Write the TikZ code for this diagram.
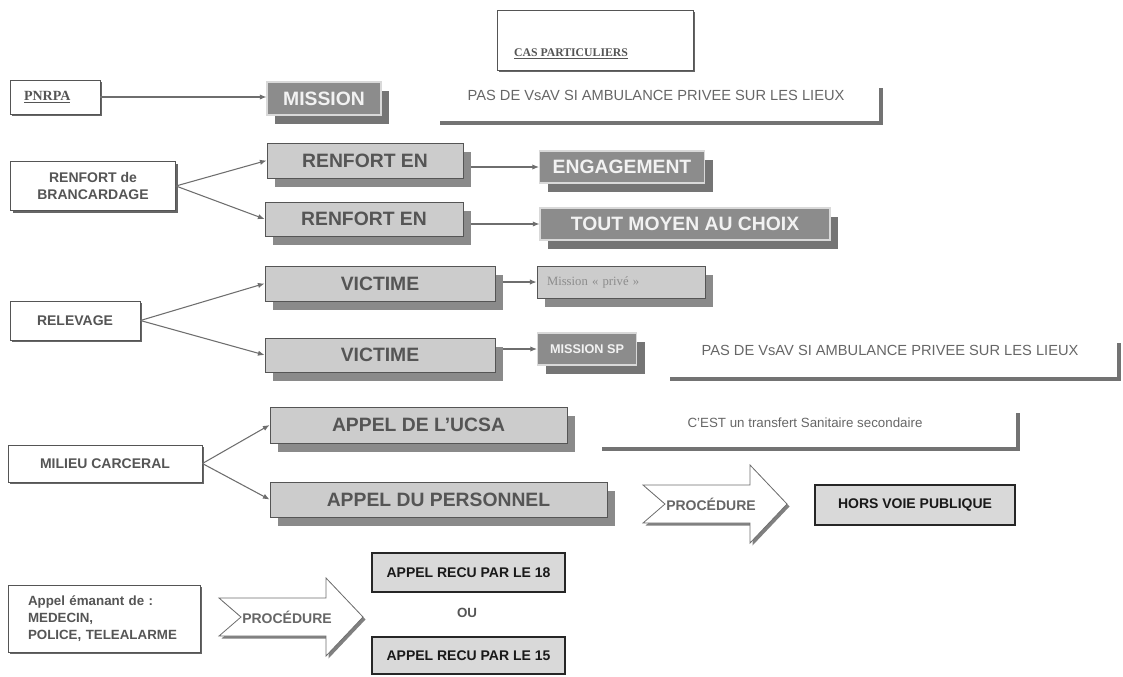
\documentclass[tikz,border=0pt]{standalone}
\usepackage{fontspec}
\setmainfont{Liberation Sans}
\newfontfamily\serifcas{Liberation Serif}
\usetikzlibrary{shadows,arrows.meta}

\definecolor{boxgray}{HTML}{CCCCCC}
\definecolor{darkfill}{HTML}{8C8C8C}
\definecolor{shadegray}{HTML}{8A8A8A}
\definecolor{inkgray}{HTML}{555555}
\definecolor{linegray}{HTML}{6E6E6E}

\tikzset{
  whitebox/.style={draw=inkgray, fill=white, line width=0.6pt, inner sep=0pt,
    text=inkgray, font=\bfseries\fontsize{10.5}{12.5}\selectfont, align=center,
    drop shadow={opacity=1, fill=black!60, shadow xshift=1.5pt, shadow yshift=-1.5pt}},
  lightbox/.style={draw=inkgray, fill=boxgray, line width=0.6pt, inner sep=0pt,
    text=inkgray, font=\bfseries\fontsize{14.5}{16}\selectfont,
    drop shadow={opacity=1, fill=shadegray, shadow xshift=6pt, shadow yshift=-6.75pt}},
  darkbox/.style={draw=white!85!black, fill=darkfill, line width=0.8pt, inner sep=0pt,
    text=white!95!black, font=\bfseries\fontsize{14.5}{16}\selectfont,
    drop shadow={opacity=1, fill=shadegray!85!black, shadow xshift=6pt, shadow yshift=-6.75pt}},
  callbox/.style={draw=black!85, fill=black!15, line width=1pt, inner sep=0pt,
    text=black!90, font=\bfseries\fontsize{10.5}{12.5}\selectfont,
    drop shadow={opacity=1, fill=black!55, shadow xshift=1pt, shadow yshift=-1pt}},
  note/.style={text=black!60, font=\fontsize{11}{13}\selectfont, inner sep=0pt},
  proctext/.style={text=black!60, font=\bfseries\fontsize{10.5}{12.5}\selectfont, inner sep=0pt},
  arw/.style={draw=linegray, line width=0.8pt, -{Latex[length=5pt,width=4pt]}},
  bracket/.style={draw=black!55, line width=3pt},
}

% notched block arrow, left end at #1
\def\procpath{(0,-19) -- (107,-19) -- (107,-39) -- (144,0) -- (107,39) -- (107,19) -- (0,19) -- (22,0) -- cycle}
\newcommand\procshape[1]{%
  \begin{scope}[shift={#1}]
    \fill[black!50, shift={(2.5,2.5)}] \procpath;
    \draw[linegray, fill=white, line width=0.6pt] \procpath;
  \end{scope}}

\begin{document}
\begin{tikzpicture}[x=0.75pt, y=-0.75pt]
  %%%%% FRAME %%%%%
  \useasboundingbox (0,0) rectangle (1123,676);

  %%%%% TITLE %%%%%
  \node[whitebox, minimum width=147pt, minimum height=45pt] (cas) at (595,40) {};
  \node[text=inkgray, inner sep=0pt, font=\serifcas\bfseries\fontsize{8.8}{10}\selectfont] (castitle) at (571,54) {\underline{CAS PARTICULIERS}};

  %%%%% PNRPA %%%%%
  \node[whitebox, minimum width=67.5pt, minimum height=25.5pt, text width=46.5pt, inner xsep=10.5pt, align=left,
    font=\serifcas\bfseries\fontsize{10.5}{12}\selectfont] (pnrpa) at (55,97) {\underline{PNRPA}};
  \node[darkbox, minimum width=85.5pt, minimum height=24.75pt] (mission) at (324,98.5) {MISSION};
  \draw[arw] (pnrpa.east) -- (pnrpa.east -| mission.west);
  \node[note] (noteA) at (656,95) {PAS DE VsAV SI AMBULANCE PRIVEE SUR LES LIEUX};
  \draw[bracket] (440,123) -- (881,123) -- (881,88);

  %%%%% BRANCARDAGE %%%%%
  \node[whitebox, minimum width=123.75pt, minimum height=36.75pt] (branc) at (93,186) {RENFORT de\\BRANCARDAGE};
  \node[lightbox, minimum width=147pt, minimum height=26.25pt] (renA) at (365,160.5) {RENFORT EN};
  \node[lightbox, minimum width=148.5pt, minimum height=25.5pt] (renB) at (364,219) {RENFORT EN};
  \node[darkbox, minimum width=123.75pt, minimum height=24pt] (engage) at (622,167) {ENGAGEMENT};
  \node[darkbox, minimum width=217.5pt, minimum height=24pt] (choix) at (685,224) {TOUT MOYEN AU CHOIX};
  \draw[arw] (branc.east) -- (renA.west);
  \draw[arw] (branc.east) -- (renB.west);
  \draw[arw, shorten <=6pt] (engage.west -| renA.east) -- (engage.west);
  \draw[arw, shorten <=6pt] (choix.west -| renB.east) -- (choix.west);

  %%%%% RELEVAGE %%%%%
  \node[whitebox, minimum width=97.5pt, minimum height=29.25pt] (relev) at (75,320.5) {RELEVAGE};
  \node[lightbox, minimum width=172.5pt, minimum height=26.25pt] (victA) at (380,283.5) {VICTIME};
  \node[lightbox, minimum width=172.5pt, minimum height=25.5pt] (victB) at (380,355) {VICTIME};
  \node[lightbox, minimum width=126pt, minimum height=24pt, text width=111pt, inner xsep=7.5pt, align=left,
    text=black!45, font=\serifcas\fontsize{9.5}{11}\selectfont] (prive) at (621,282) {Mission « privé »};
  \node[darkbox, minimum width=74.25pt, minimum height=24pt, font=\bfseries\fontsize{9.5}{11}\selectfont] (mspro) at (587,349) {MISSION SP};
  \draw[arw] (relev.east) -- (victA.west);
  \draw[arw] (relev.east) -- (victB.west);
  \draw[arw, shorten <=6pt] (prive.west -| victA.east) -- (prive.west);
  \draw[arw, shorten <=6pt] (mspro.west -| victB.east) -- (mspro.west);
  \node[note] (noteB) at (890,350) {PAS DE VsAV SI AMBULANCE PRIVEE SUR LES LIEUX};
  \draw[bracket] (670,379) -- (1119,379) -- (1119,343);

  %%%%% CARCERAL %%%%%
  \node[whitebox, minimum width=145.5pt, minimum height=27.75pt] (milieu) at (105,463.5) {MILIEU CARCERAL};
  \node[lightbox, minimum width=222.75pt, minimum height=27pt] (ucsa) at (418.5,425) {APPEL DE L’UCSA};
  \node[lightbox, minimum width=252.75pt, minimum height=26.25pt] (perso) at (438.5,499.5) {APPEL DU PERSONNEL};
  \draw[arw] (milieu.east) -- (ucsa.west);
  \draw[arw] (milieu.east) -- (perso.west);
  \node[note, font=\fontsize{10}{12}\selectfont] (noteC) at (805,423) {C’EST un transfert Sanitaire secondaire};
  \draw[bracket] (602,449) -- (1018,449) -- (1018,413);
  \procshape{(643,504)}
  \node[proctext] (procA) at (711,504) {PROCÉDURE};
  \node[callbox, minimum width=150pt, minimum height=30pt] (hors) at (915,505) {HORS VOIE PUBLIQUE};

  %%%%% APPEL EXTERIEUR %%%%%
  \node[whitebox, minimum width=144pt, minimum height=50.25pt, text width=114pt, inner xsep=15pt, align=left,
    font=\bfseries\fontsize{10}{12.5}\selectfont] (appel) at (104,618.5) {Appel émanant de :\\MEDECIN,\\POLICE, TELEALARME};
  \procshape{(219,617)}
  \node[proctext] (procB) at (287,617) {PROCÉDURE};
  \node[callbox, minimum width=144.75pt, minimum height=29.25pt] (recuA) at (468.5,572.5) {APPEL RECU PAR LE 18};
  \node[text=inkgray, inner sep=0pt, font=\bfseries\fontsize{10}{12}\selectfont] (ou) at (467,613) {OU};
  \node[callbox, minimum width=144.75pt, minimum height=27.75pt] (recuB) at (468.5,655.5) {APPEL RECU PAR LE 15};
\end{tikzpicture}
\end{document}
